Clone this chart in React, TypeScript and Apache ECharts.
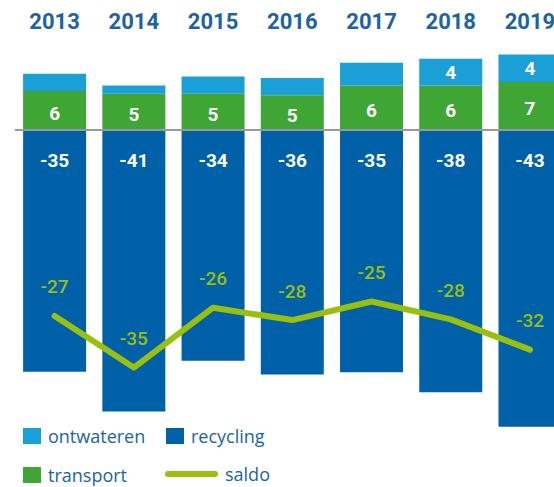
import React, { useEffect, useRef } from "react";
import * as echarts from "echarts";

const categories = ["2013", "2014", "2015", "2016", "2017", "2018", "2019"];
const transport = [5.6, 5.2, 5.2, 5.0, 6.4, 6.4, 6.9];
const ontwateren = [2.5, 1.2, 2.5, 2.5, 3.3, 3.9, 4.0];
const recycling = [-35.2, -41.0, -33.6, -35.6, -35.3, -38.2, -43.2];
const saldo = [-27.1, -34.6, -25.9, -27.7, -25.0, -27.6, -32.0];

const C_LIGHT = "#1a9fd7";
const C_DARK = "#0061a8";
const C_GREEN = "#3fa535";
const C_SALDO = "#9bbf0e";
const C_TEXT = "#1b63a5";
const FONT = "Roboto, 'Open Sans', sans-serif";
const LEGEND_FONT = "'Open Sans', Roboto, sans-serif";

export default function App() {
  const ref = useRef<HTMLDivElement>(null);
  useEffect(() => {
    document.body.style.margin = "0";
    document.body.style.overflow = "hidden";
    if (!ref.current) return;
    const chart = echarts.init(ref.current, null, { renderer: "svg" });
    const legendBase = {
      orient: "horizontal",
      padding: 0,
      itemWidth: 18,
      itemHeight: 16,
      icon: "rect",
      textStyle: { fontSize: 18, color: C_TEXT, fontFamily: LEGEND_FONT, padding: [0, 0, 0, 2] },
      selectedMode: false,
    };
    chart.setOption({
      animation: false,
      textStyle: { fontFamily: FONT },
      grid: { left: 15, right: 0.4, top: 40.1, bottom: 47.9, containLabel: false },
      legend: [
        { ...legendBase, left: 23, top: 427, data: ["ontwateren"] },
        { ...legendBase, left: 166, top: 427, data: ["recycling"] },
        { ...legendBase, left: 23, top: 466, data: ["transport"] },
        {
          ...legendBase,
          left: 165,
          top: 465,
          itemWidth: 53,
          itemHeight: 6,
          data: [{ name: "saldo", icon: "path://M3,0 L50,0 A3,3 0 0 1 50,6 L3,6 A3,3 0 0 1 3,0 Z" }],
        },
      ],
      xAxis: {
        type: "category",
        position: "top",
        data: categories,
        axisLine: { show: false, onZero: false },
        axisTick: { show: false },
        axisLabel: {
          fontSize: 22,
          fontWeight: "bold",
          color: C_TEXT,
          margin: 8,
          fontFamily: FONT,
        },
        splitLine: { show: false },
      },
      yAxis: {
        type: "value",
        min: -45,
        max: 13,
        show: false,
        splitLine: { show: false },
      },
      series: [
        {
          name: "transport",
          type: "bar",
          stack: "total",
          barWidth: 63,
          data: transport,
          itemStyle: { color: C_GREEN },
          label: {
            show: true,
            position: "inside",
            offset: [0, 3],
            color: "#fff",
            fontSize: 19,
            fontWeight: "bold",
            fontFamily: FONT,
            formatter: (p: any) => String(Math.round(p.value)),
          },
          markLine: {
            silent: true,
            symbol: "none",
            label: { show: false },
            lineStyle: { color: "#999999", width: 2, type: "solid" },
            data: [{ yAxis: 0 }],
            z: 10,
          },
        },
        {
          name: "ontwateren",
          type: "bar",
          stack: "total",
          barWidth: 63,
          data: ontwateren,
          itemStyle: { color: C_LIGHT },
          label: {
            show: true,
            position: "inside",
            color: "#fff",
            fontSize: 19,
            fontWeight: "bold",
            fontFamily: FONT,
            formatter: (p: any) => (p.value >= 3.5 ? String(Math.round(p.value)) : ""),
          },
        },
        {
          name: "recycling",
          type: "bar",
          stack: "total",
          barWidth: 63,
          data: recycling,
          itemStyle: { color: C_DARK },
          label: {
            show: true,
            position: "insideTop",
            distance: 21,
            color: "#fff",
            fontSize: 19,
            fontWeight: "bold",
            fontFamily: FONT,
            formatter: (p: any) => String(Math.round(p.value)),
          },
        },
        {
          name: "saldo",
          type: "line",
          data: saldo,
          symbol: "circle",
          symbolSize: 1,
          showSymbol: true,
          z: 5,
          itemStyle: { color: C_SALDO },
          lineStyle: { color: C_SALDO, width: 6, cap: "round", join: "round" },
          label: {
            show: true,
            position: "top",
            distance: 19,
            color: C_SALDO,
            fontSize: 19,
            fontWeight: 500,
            fontFamily: FONT,
            formatter: (p: any) => String(Math.round(p.value)),
          },
        },
      ],
    });
    return () => chart.dispose();
  }, []);
  return <div ref={ref} style={{ width: 570, height: 487 }} />;
}
